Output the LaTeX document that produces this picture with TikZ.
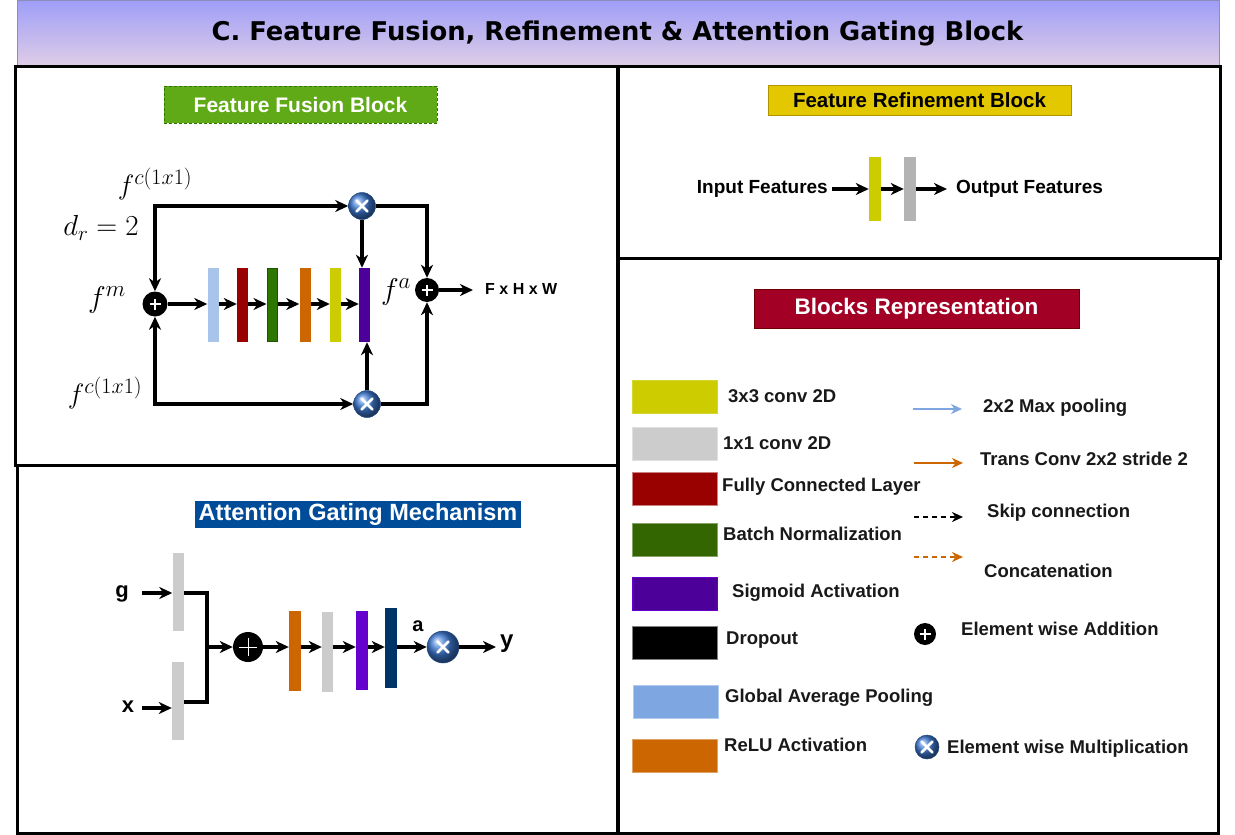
\RequirePackage{fix-cm}
\documentclass[tikz,border=0pt]{standalone}
\usepackage[no-math]{fontspec}
\setmainfont{Liberation Sans}
\newfontfamily\dejavu{DejaVu Sans}
\usetikzlibrary{arrows.meta}
\newcommand\fsz[1]{\fontsize{#1}{#1}\selectfont}
\DeclareMathSizes{28}{28}{22}{16}
\DeclareMathSizes{29}{29}{21}{15}
\DeclareMathSizes{30}{30}{23}{17}
\definecolor{bantop}{RGB}{158,158,248}
\definecolor{banbot}{RGB}{222,204,230}
\definecolor{banline}{RGB}{140,140,185}
\definecolor{ffgreen}{RGB}{96,169,23}
\definecolor{ffgreenD}{RGB}{45,118,0}
\definecolor{fryel}{RGB}{227,200,0}
\definecolor{fryelD}{RGB}{176,149,0}
\definecolor{brred}{RGB}{162,0,37}
\definecolor{brredD}{RGB}{111,0,0}
\definecolor{agblue}{RGB}{0,76,153}
\definecolor{cLB}{RGB}{169,196,235}
\definecolor{cLB2}{RGB}{126,166,224}
\definecolor{cRed}{RGB}{153,0,0}
\definecolor{cGreen}{RGB}{45,118,0}
\definecolor{cGreen2}{RGB}{51,102,0}
\definecolor{cOrange}{RGB}{204,102,0}
\definecolor{cYellow}{RGB}{204,204,0}
\definecolor{cPurple}{RGB}{76,0,153}
\definecolor{cPurple2}{RGB}{102,0,204}
\definecolor{cNavy}{RGB}{0,51,102}
\definecolor{cGray}{RGB}{204,204,204}
\definecolor{cGray2}{RGB}{179,179,179}
\definecolor{mball}{RGB}{60,120,210}
\begin{document}
\begin{tikzpicture}[x=1pt,y=-1pt,
  bar/.style={rectangle,inner sep=0pt,draw=none},
  arr/.style={line width=3.2pt,-{Stealth[length=13pt,width=12pt,inset=4pt]}},
  arrb/.style={line width=3.2pt,{Stealth[length=13pt,width=12pt,inset=4pt]}-{Stealth[length=13pt,width=12pt,inset=4pt]}},
  ln/.style={line width=3.2pt},
  addbig/.style={circle,fill=black,inner sep=0pt,minimum size=#1,
    path picture={\draw[white,line width=2.6pt]
      ([xshift=-5.5pt]path picture bounding box.center) -- ([xshift=5.5pt]path picture bounding box.center)
      ([yshift=-5.5pt]path picture bounding box.center) -- ([yshift=5.5pt]path picture bounding box.center);}},
  addthin/.style={circle,fill=black,inner sep=0pt,minimum size=#1,
    path picture={\draw[white,line width=1pt]
      ([xshift=-9pt]path picture bounding box.center) -- ([xshift=9pt]path picture bounding box.center)
      ([yshift=-9pt]path picture bounding box.center) -- ([yshift=9pt]path picture bounding box.center);}},
  mult/.style={circle,inner sep=0pt,minimum size=#1,shading=ball,ball color=mball,draw=mball!60!black,line width=0.5pt,
    path picture={\draw[white,line width=2.6pt,line cap=round]
      ([shift={(-5.5pt,-5.5pt)}]path picture bounding box.center) -- ([shift={(5.5pt,5.5pt)}]path picture bounding box.center)
      ([shift={(-5.5pt,5.5pt)}]path picture bounding box.center) -- ([shift={(5.5pt,-5.5pt)}]path picture bounding box.center);}},
  lbl/.style={font=\fsz{18.5}\bfseries,inner sep=0pt,anchor=west,text=black!90},
  swatch/.style={rectangle,inner sep=0pt,minimum width=85pt,minimum height=33pt,line width=0.8pt},
  panel/.style={line width=3pt,draw=black},
  legtip/.style={-{Stealth[length=11pt,width=10pt,inset=3.5pt]}}
]
\useasboundingbox (0,0) rectangle (1235,835);
\fill[white] (0,0) rectangle (1235,835);

% ---------- banner ----------
\shade[top color=bantop,bottom color=banbot,draw=banline,line width=1pt] (17,0) rectangle (1219,65);
\node[font=\dejavu\bfseries\fsz{25.8},inner sep=0pt] (title) at (617.5,33) {C. Feature Fusion, Refinement \& Attention Gating Block};

% ---------- panels ----------
\draw[panel] (15,66) rectangle (617,465);
\draw[panel] (17,465) rectangle (617,833);
\draw[panel] (618,66) rectangle (1220,258);
\draw[panel] (618,258) rectangle (1218,833);

% ---------- Feature Fusion Block ----------
\node[fill=ffgreen,draw=ffgreenD,dashed,dash pattern=on 3pt off 2pt,line width=1pt,text=white,font=\fsz{21}\bfseries,
      minimum width=273pt,minimum height=37pt,inner sep=0pt] (fft) at (300.5,104.5) {Feature Fusion Block};

\node[addbig=25pt] (p1) at (155,304) {};
\node[bar,fill=cLB,minimum width=11pt,minimum height=74pt] (b1) at (213,305) {};
\node[bar,fill=cRed,minimum width=11pt,minimum height=74pt] (b2) at (242.5,305) {};
\node[bar,fill=cGreen,draw=cGreen!70!black,line width=1pt,minimum width=10pt,minimum height=73pt] (b3) at (272,305) {};
\node[bar,fill=cOrange,minimum width=11pt,minimum height=74pt] (b4) at (305,305) {};
\node[bar,fill=cYellow,minimum width=11pt,minimum height=74pt] (b5) at (335.5,305) {};
\node[bar,fill=cPurple,minimum width=11pt,minimum height=74pt] (b6) at (364.5,305) {};
\node[mult=27pt] (m1) at (362,206) {};
\node[mult=27pt] (m2) at (367,404) {};
\node[addbig=24pt] (p2) at (427,290) {};
\coordinate (o1) at (473,290);

\draw[arr] (p1.east) -- (p1.east -| b1.west);
\draw[arr] (b1.east |- p1.east) -- (p1.east -| b2.west);
\draw[arr] (b2.east |- p1.east) -- (p1.east -| b3.west);
\draw[arr] (b3.east |- p1.east) -- (p1.east -| b4.west);
\draw[arr] (b4.east |- p1.east) -- (p1.east -| b5.west);
\draw[arr] (b5.east |- p1.east) -- (p1.east -| b6.west);
\draw[arrb] (p1.north) |- (m1.west);
\draw[arrb] (p1.south) |- (m2.west);
\draw[arr] (m1.south) -- (m1.south |- b6.north);
\draw[arr] (m2.north) -- (m2.north |- b6.south);
\draw[arr] (m1.east) -| (p2.north);
\draw[arr] (m2.east) -| (p2.south);
\draw[arr] (p2.east) -- (o1);

\node[font=\fsz{28}] (lfc1) at (155,184) {$f^{c(1x1)}$};
\node[font=\fsz{29}] (ldr) at (101,228) {$d_r = 2$};
\node[font=\fsz{30}] (lfm) at (107,300) {$f^m$};
\node[font=\fsz{28}] (lfc2) at (105,393) {$f^{c(1x1)}$};
\node[font=\fsz{30}] (lfa) at (396,292) {$f^a$};
\node[font=\fsz{16}\bfseries,anchor=west,inner sep=0pt] (fhw) at (485,289) {F x H x W};

% ---------- Feature Refinement Block ----------
\node[fill=fryel,draw=fryelD,line width=1pt,font=\fsz{20.5}\bfseries,
      minimum width=303pt,minimum height=30pt,inner sep=0pt] (frt) at (919.5,100.5) {Feature Refinement Block};
\node[font=\fsz{19}\bfseries,anchor=east,inner sep=0pt] (inf) at (828,189) {Input Features};
\node[bar,fill=cYellow,minimum width=12pt,minimum height=64pt] (ry) at (875,189) {};
\node[bar,fill=cGray2,minimum width=12pt,minimum height=64pt] (rg) at (910,189) {};
\node[font=\fsz{19}\bfseries,anchor=west,inner sep=0pt] (outf) at (956,189) {Output Features};
\draw[arr] ([xshift=4pt]inf.east) -- (ry.west);
\draw[arr] (ry.east) -- (rg.west);
\draw[arr] (rg.east) -- ([xshift=-9pt]outf.west);

% ---------- Blocks Representation ----------
\node[fill=brred,draw=brredD,line width=1pt,text=white,font=\fsz{22.5}\bfseries,
      minimum width=325pt,minimum height=39pt,inner sep=0pt] (brt) at (916.5,308.5) {Blocks Representation};

\node[swatch,fill=cYellow,draw=cYellow!80!white] (s1) at (674.5,396.5) {};
\node[swatch,fill=cGray,draw=cGray!60!white] (s2) at (674.5,443.5) {};
\node[swatch,fill=cRed,draw=cRed!50!white] (s3) at (674.5,488.5) {};
\node[swatch,fill=cGreen2,draw=cGreen2!60!white] (s4) at (674.5,539.5) {};
\node[swatch,fill=cPurple,draw=cPurple2] (s5) at (674.5,593.5) {};
\node[swatch,fill=black,draw=black!50] (s6) at (674.5,642.5) {};
\node[swatch,fill=cLB2,draw=cLB2!60!white] (s7) at (675.5,701.5) {};
\node[swatch,fill=cOrange,draw=cOrange!60!white] (s8) at (674.5,755.5) {};

\node[lbl] (t1) at (728,396) {3x3 conv 2D};
\node[lbl] (t2) at (723,443) {1x1 conv 2D};
\node[lbl] (t3) at (722,487) {Fully Connected Layer};
\node[lbl] (t4) at (723,534) {Batch Normalization};
\node[lbl] (t5) at (732,593) {Sigmoid Activation};
\node[lbl] (t6) at (726,640) {Dropout};
\node[lbl] (t7) at (725,698) {Global Average Pooling};
\node[lbl] (t8) at (724,745) {ReLU Activation};

\coordinate (a1s) at (913,409); \coordinate (a1e) at (962,409);
\coordinate (a2s) at (914,463); \coordinate (a2e) at (963,463);
\coordinate (a3s) at (914,517); \coordinate (a3e) at (963,517);
\coordinate (a4s) at (914,557); \coordinate (a4e) at (963,557);
\draw[line width=2pt,draw=cLB2,legtip] (a1s) -- (a1e);
\draw[line width=2.4pt,draw=cOrange,legtip] (a2s) -- (a2e);
\draw[line width=2.2pt,draw=black,dash pattern=on 5pt off 4pt,legtip] (a3s) -- (a3e);
\draw[line width=2pt,draw=cOrange,dash pattern=on 5pt off 4pt,legtip] (a4s) -- (a4e);

\node[lbl] (r1) at (983,408) {2x2 Max pooling};
\node[lbl] (r2) at (980,459) {Trans Conv 2x2 stride 2};
\node[lbl] (r3) at (987,513) {Skip connection};
\node[lbl] (r4) at (984,571) {Concatenation};
\node[addbig=22pt] (ladd) at (925,634) {};
\node[lbl] (r5) at (961,629) {Element wise Addition};
\node[mult=24pt] (lmul) at (927,747) {};
\node[lbl] (r6) at (947,749) {Element wise Multiplication};

% ---------- Attention Gating Mechanism ----------
\node[fill=agblue,text=white,font=\fsz{23.5}\bfseries,
      minimum width=326pt,minimum height=27pt,inner sep=0pt] (agt) at (358,514.5) {Attention Gating Mechanism};

\node[font=\fsz{22}\bfseries,inner sep=1pt] (tg) at (122,594) {g};
\node[font=\fsz{22}\bfseries,inner sep=1pt] (tx) at (128,707) {x};
\node[bar,fill=cGray,minimum width=11pt,minimum height=78pt] (gb) at (178,592) {};
\node[bar,fill=cGray,minimum width=12pt,minimum height=78pt] (xb) at (178,701) {};
\coordinate (gin) at (142,593);
\coordinate (xin) at (142,708);
\draw[arr] (gin) -- (gin -| gb.west);
\draw[arr] (xin) -- (xin -| xb.west);
\coordinate (jn) at (207,647);
\draw[ln] (gb.east |- gin) -| (jn) |- (xb.east |- 0,702);
\node[addthin=30pt] (ap) at (248,647) {};
\draw[arr] (jn) -- (ap.west);
\node[bar,fill=cOrange,minimum width=12pt,minimum height=80pt] (ao) at (295,651) {};
\node[bar,fill=cGray,minimum width=11pt,minimum height=80pt] (ag) at (327.5,652) {};
\node[bar,fill=cPurple2,minimum width=12pt,minimum height=79pt] (apu) at (362,650.5) {};
\node[bar,fill=cNavy,minimum width=12pt,minimum height=80pt] (an) at (391,648) {};
\node[mult=32pt] (am) at (443,647) {};
\coordinate (yo) at (496,647);
\draw[arr] (ap.east) -- (ap.east -| ao.west);
\draw[arr] (ao.east |- ap.east) -- (ap.east -| ag.west);
\draw[arr] (ag.east |- ap.east) -- (ap.east -| apu.west);
\draw[arr] (apu.east |- ap.east) -- (ap.east -| an.west);
\draw[arr] (an.east |- ap.east) -- (am.west);
\draw[arr] (am.east) -- (yo);
\node[font=\fsz{20}\bfseries,inner sep=0pt] (ta) at (418,626) {a};
\node[font=\fsz{24}\bfseries,inner sep=0pt,anchor=west] (ty) at (500,644) {y};
\end{tikzpicture}
\end{document}
